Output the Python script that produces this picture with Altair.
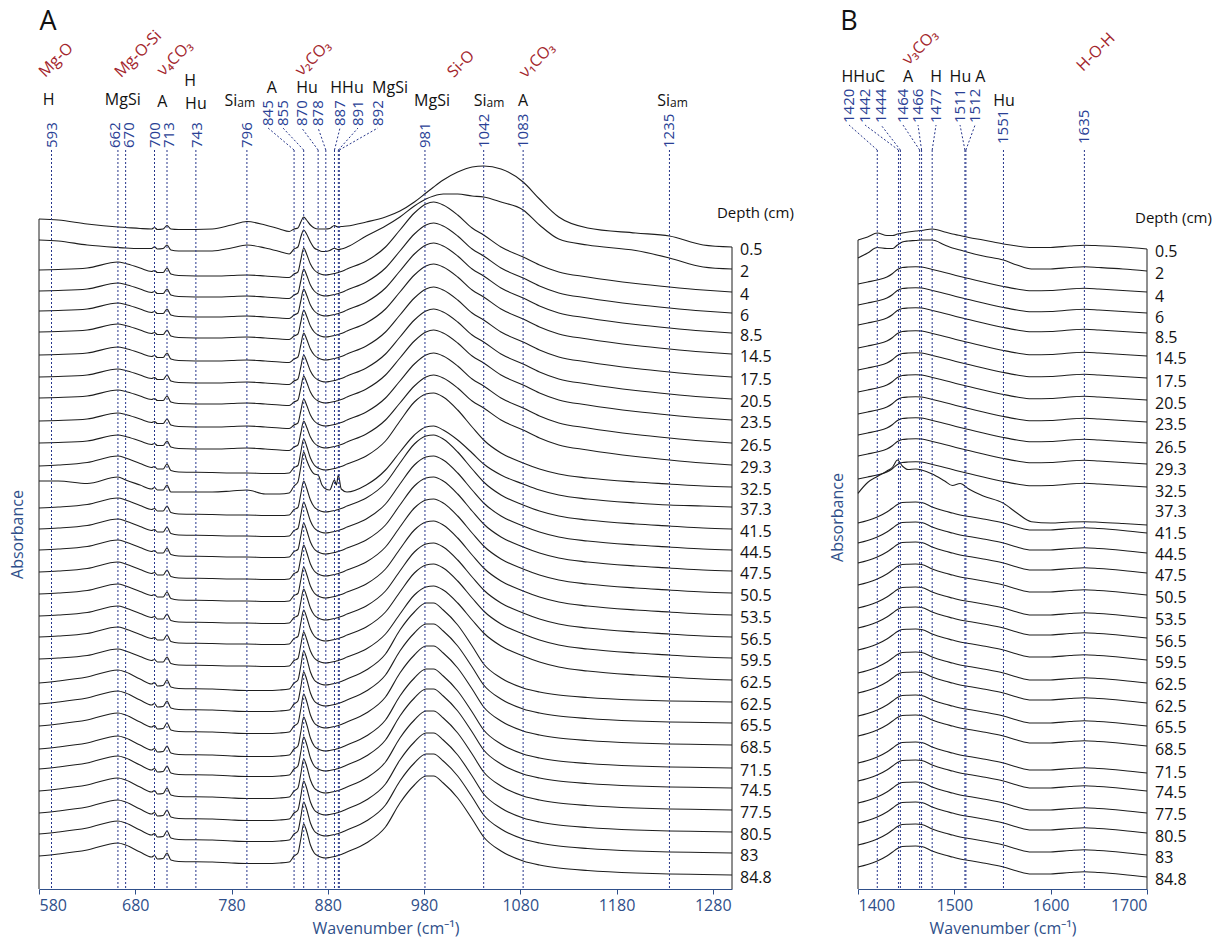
import altair as alt
import pandas as pd

FONT = "Open Sans"
INK = "#1e1e1e"
NAVY = "#26358a"
NUM = "#2a3f95"
RED = "#a3262d"
AXC = "#2f4f8a"

Y_LO, Y_HI = -14, 875

# ---------------- shared: sample depths (cm) ----------------
depths = ["0.5", "2", "4", "6", "8.5", "14.5", "17.5", "20.5", "23.5", "26.5",
          "29.3", "32.5", "37.3", "41.5", "44.5", "47.5", "50.5", "53.5", "56.5", "59.5",
          "62.5", "62.5", "65.5", "68.5", "71.5", "74.5", "77.5", "80.5", "83", "84.8"]

# ---------------- panel A (580-1300 cm-1) ----------------
wn_A = [580, 600, 630, 662, 670, 685, 697, 700, 703, 709,
        713, 717, 725, 760, 780, 796, 815, 830, 840, 845,
        849, 852, 855, 858, 862, 866, 870, 874, 878, 882,
        887, 889, 891, 894, 900, 920, 940, 955, 970, 982,
        990, 1000, 1015, 1030, 1042, 1060, 1083, 1100, 1120, 1150,
        1200, 1235, 1270, 1300]

# stacking offset of each spectrum (value at 1300 cm-1, arbitrary absorbance units)
offset_A = [628, 606, 583, 562, 542, 521, 498, 476, 455, 432,
            410, 388, 368, 346, 325, 304, 282, 260, 238, 217,
            195, 173, 152, 130, 107, 87, 65, 43, 22, 0]

shape_A_top = [28, 27, 23, 20, 19.5, 18.5, 18, 19.5, 17.5, 18,
               21.5, 18, 17.5, 18, 22, 25.5, 22, 18, 15.5, 18,
               19, 25, 30, 27, 22, 19, 18, 18, 18, 18.5,
               21.5, 20.5, 20, 20.5, 21, 25, 30, 36, 45, 54,
               60, 67, 75, 80, 81, 78, 65, 48, 30, 19,
               14, 11, 2, 0]
shape_A_second = [29, 28, 24, 21.5, 21, 20.5, 20.5, 22.3, 20, 20.5,
                  24, 19, 18, 18, 21, 24, 21, 17.5, 15, 20,
                  22, 32, 39, 35, 27, 21, 19, 17.5, 17.5, 18.5,
                  20.7, 20, 19.5, 20, 22, 33, 43, 52, 63, 70,
                  73, 75, 75, 73, 72, 67, 59, 44, 30, 24,
                  18.5, 11, 2, 0]
shape_A_upper = [22, 22.5, 24, 30, 28.5, 24, 20.5, 21.5, 19.5, 19.5,
                 24, 18, 16.5, 16, 16.5, 17, 16, 15, 14.5, 18,
                 20, 32, 44, 38, 28, 22, 19, 17.5, 17, 17.5,
                 18.5, 19, 19.5, 20.5, 23, 31, 45, 62, 79, 88,
                 90, 87, 77, 64, 57, 45, 35, 27, 20, 15,
                 8.5, 5, 2, 0]
shape_A_mid = [21, 22, 24.5, 31, 29, 23.5, 19.5, 20.5, 18, 18,
               23, 16.5, 15, 14.5, 14, 14, 13.5, 13.5, 14, 19.5,
               21.5, 35, 48, 41, 29, 22, 19, 17.5, 17, 17.5,
               18.5, 19, 19.5, 20.5, 23, 31, 46, 66, 85, 93,
               94, 90, 77, 60, 47, 34, 24, 18, 13, 9,
               5, 3, 1, 0]
shape_A_lower = [19, 21, 25, 32, 30, 23, 18, 19.5, 16, 16.5,
                 22, 15, 13.5, 13, 12, 11.5, 11.5, 12, 13, 19,
                 22, 36, 51, 44, 30, 22, 19, 17.5, 17, 17.5,
                 18.5, 19, 19.5, 20.5, 23, 32, 48, 72, 90, 99,
                 99, 92, 77, 56, 38, 24, 14, 10, 7, 4.5,
                 2, 1, 0.5, 0]
shape_A_odd = [26, 26, 23.5, 30, 27, 22, 18, 19.5, 17, 17,
               22, 15, 15, 15, 16, 17, 13, 13, 14, 21,
               25, 40, 55, 47, 38, 33, 32, 22, 18, 17,
               27, 22, 32, 18, 15, 22, 37, 55, 72, 80,
               81, 77, 67, 54, 43, 32, 23, 17, 12, 8,
               4, 2, 1, 0]
assign_A = (["top", "second"] + ["upper"] * 9 + ["mid", "odd"] + ["mid"] * 8 + ["lower"] * 9)

# ---------------- panel B (1400-1700 cm-1) ----------------
wn_B = [1400, 1410, 1420, 1430, 1436, 1441, 1446, 1452, 1460, 1466,
        1477, 1490, 1498, 1506, 1515, 1530, 1551, 1565, 1580, 1600,
        1620, 1635, 1650, 1675, 1700]
offset_B = [626, 604, 583, 562, 542, 519, 497, 475, 453, 432,
            411, 388, 350, 342, 322, 302, 280, 257, 237, 215,
            192, 172, 149, 129, 102, 84, 62, 42, 20, -2]
shape_B_top = [9, 12, 16, 13.5, 13.5, 15, 16, 17, 18, 18.5,
               20, 17, 15, 13.5, 11.5, 9, 5, 3, 1.5, 1.5,
               3, 3.8, 3.3, 2, 0]
shape_B_second = [13, 18, 23.5, 22.5, 22.5, 26, 29, 30, 30.5, 31,
                  31, 26, 23, 21, 18.5, 15, 11, 6, 2, 2,
                  3.5, 4.3, 3.5, 2, 0]
shape_B_upper = [8, 10, 12, 15, 18.5, 22.5, 24.5, 25, 25.3, 25,
                 22.5, 19.5, 17.5, 15.5, 13.5, 10, 5.5, 3, 1.3, 1.5,
                 3, 3.7, 3, 1.5, 0]
shape_B_lower = [10, 12.5, 16, 21, 25, 28.5, 30.5, 30.8, 31, 30.5,
                 26, 22, 20, 18, 16.5, 14, 10, 6, 3, 3,
                 4.5, 5.3, 4.5, 2.5, 0]
shape_B_odd = [31.7, 42.5, 48.5, 54, 58, 65, 59, 55.5, 56, 55,
               51, 44, 39.5, 41.5, 36, 29, 21.7, 12, 3.3, 2,
               3, 3.3, 2.8, 1.5, 0]
assign_B = ["top", "second"] + ["upper"] * 10 + ["odd"] + ["lower"] * 17

# ---------------- band annotations ----------------
peaks_A = [593, 662, 670, 700, 713, 743, 796, 845, 855, 870, 878, 887, 891, 892, 981, 1042, 1083, 1235]
peak_label_w_A = [593, 659, 673, 700.5, 715.5, 744, 796, 818, 833.5, 853, 870, 892.7, 911.4, 932, 981, 1042, 1083, 1235]
raised_A = [0, 0, 0, 0, 0, 0, 0, 1, 1, 1, 1, 1, 1, 1, 0, 0, 0, 0]

peaks_B = [1420, 1442, 1444, 1464, 1466, 1477, 1511, 1512, 1551, 1635]
peak_label_w_B = [1390.7, 1407.3, 1423.9, 1446.7, 1462.3, 1481, 1505.9, 1521.5, 1551, 1635]
raised_B = [1, 1, 1, 1, 1, 1, 1, 1, 0, 0]

codes_A = ["H", "MgSi", "A", "H", "Hu", "A", "Hu", "HHu", "MgSi", "MgSi", "A"]
codes_A_w = [590, 667, 708, 737, 743, 822, 858.5, 900, 944.7, 988.3, 1083]
codes_A_row = [775, 775, 773, 794, 771, 787, 787, 787, 787, 774, 774]
siam_A_w = [786, 1045, 1235.6]

codes_B = ["HHuC", "A", "H", "Hu A", "Hu"]
codes_B_w = [1405.5, 1451.9, 1481, 1513.7, 1551.6]
codes_B_row = [798, 798, 798, 798, 774]

bands_A = ["Mg-O", "Mg-O-Si", "ν₄CO₃", "ν₂CO₃", "Si-O", "ν₁CO₃"]
bands_A_w = [597.7, 683, 721, 864.7, 1018.4, 1097.4]
bands_A_row = [815, 821, 817, 817, 811, 815]
bands_B = ["ν₃CO₃", "H-O-H"]
bands_B_w = [1464.4, 1647]
bands_B_row = [828, 823]


def spectra_frame(wn, offsets, shapes, assign):
    rows = []
    for i, key in enumerate(assign):
        shp = shapes[key]
        assert len(shp) == len(wn), (key, len(shp), len(wn))
        for w, s in zip(wn, shp):
            rows.append({"sid": i, "depth": depths[i], "w": w, "a": offsets[i] + s})
    return pd.DataFrame(rows)


dfA = spectra_frame(wn_A, offset_A, {"top": shape_A_top, "second": shape_A_second,
                                     "upper": shape_A_upper, "mid": shape_A_mid,
                                     "lower": shape_A_lower, "odd": shape_A_odd}, assign_A)
dfB = spectra_frame(wn_B, offset_B, {"top": shape_B_top, "second": shape_B_second,
                                     "upper": shape_B_upper, "lower": shape_B_lower,
                                     "odd": shape_B_odd}, assign_B)


def make_encoders(dom, ticks, title_y, title_x):
    xax = alt.Axis(values=ticks, title="Wavenumber (cm⁻¹)", grid=False, format="d",
                   domainColor=AXC, tickColor=AXC, tickSize=5, labelColor=AXC,
                   labelFont=FONT, labelFontSize=16, labelPadding=3,
                   titleFont=FONT, titleFontSize=16, titleFontWeight="normal",
                   titleColor=AXC, titlePadding=7)
    yax = alt.Axis(title="Absorbance", labels=False, ticks=False, domain=False, grid=False,
                   titleFont=FONT, titleFontSize=16, titleFontWeight="normal", titleColor=AXC,
                   titleX=title_x, titleY=title_y, titleAngle=270, titleAlign="center",
                   titleBaseline="middle")

    def xenc(field):
        return alt.X(field, type="quantitative",
                     scale=alt.Scale(domain=dom, nice=False, zero=False), axis=xax)

    def yenc(field):
        return alt.Y(field, type="quantitative",
                     scale=alt.Scale(domain=[Y_LO, Y_HI], nice=False, zero=False), axis=yax)
    return xenc, yenc


def panel(df, dom, ticks, width, title_y, title_x, peaks, plw, raised, nb, nrb,
          codes, codes_w, codes_row, siam_w, bands, bands_w, bands_row,
          letter, letter_w, hdr_w, hdr_y, label_dy):
    xenc, yenc = make_encoders(dom, ticks, title_y, title_x)
    line_top = 725
    pk = pd.DataFrame({"w": peaks, "top": [line_top] * len(peaks), "bot": [Y_LO] * len(peaks)})
    rules = alt.Chart(pk).mark_rule(color=NAVY, strokeDash=[2, 2], strokeWidth=1).encode(
        x=xenc("w"), y=yenc("top"), y2="bot")
    ld = pd.DataFrame({"w": [p for p, r in zip(peaks, raised) if r],
                       "wl": [q for q, r in zip(plw, raised) if r]})
    ld["y0"] = line_top
    ld["y1"] = nrb - 2
    leaders = alt.Chart(ld).mark_rule(color=NAVY, strokeDash=[2, 2], strokeWidth=1).encode(
        x=xenc("w"), x2="wl", y=yenc("y0"), y2="y1")
    spectra = alt.Chart(df).mark_line(interpolate="monotone", color=INK, strokeWidth=1.1).encode(
        x=xenc("w"), y=yenc("a"), detail="sid:N")
    first = df[df["sid"] == 0]
    side = pd.DataFrame({"w": [first["w"].iloc[0], first["w"].iloc[-1]],
                         "top": [first["a"].iloc[0], first["a"].iloc[-1]],
                         "bot": [Y_LO, Y_LO]})
    sides = alt.Chart(side).mark_rule(color=INK, strokeWidth=1).encode(
        x=xenc("w"), y=yenc("top"), y2="bot")
    nums = pd.DataFrame({"w": plw, "t": [str(p) for p in peaks],
                         "y": [nrb if r else nb for r in raised]})
    numt = alt.Chart(nums).mark_text(angle=270, align="left", baseline="middle", font=FONT,
                                     fontSize=15, color=NUM).encode(
        x=xenc("w"), y=yenc("y"), text="t")
    cd = pd.DataFrame({"w": codes_w, "t": codes, "y": codes_row})
    codet = alt.Chart(cd).mark_text(align="center", baseline="middle", font=FONT, fontSize=16,
                                    color="#111111").encode(x=xenc("w"), y=yenc("y"), text="t")
    layers = [spectra, rules, leaders, sides, numt, codet]
    if siam_w:
        sd = pd.DataFrame({"w": siam_w, "y": [774] * len(siam_w)})
        layers.append(alt.Chart(sd).mark_text(align="right", baseline="middle", font=FONT, fontSize=16,
                                              color="#111111", text="Si").encode(x=xenc("w"), y=yenc("y")))
        layers.append(alt.Chart(sd).mark_text(align="left", baseline="middle", font=FONT, fontSize=12,
                                              dy=2, color="#111111", text="am").encode(x=xenc("w"), y=yenc("y")))
    bd = pd.DataFrame({"w": bands_w, "t": bands, "y": bands_row})
    layers.append(alt.Chart(bd).mark_text(angle=315, align="center", baseline="middle", font=FONT,
                                          fontSize=16, color=RED).encode(x=xenc("w"), y=yenc("y"), text="t"))
    lt = pd.DataFrame({"w": [letter_w], "y": [853], "t": [letter]})
    layers.append(alt.Chart(lt).mark_text(align="center", baseline="middle", font=FONT, fontSize=27,
                                          color="#111111").encode(x=xenc("w"), y=yenc("y"), text="t"))
    hd = pd.DataFrame({"w": [hdr_w], "y": [hdr_y], "t": ["Depth (cm)"]})
    layers.append(alt.Chart(hd).mark_text(align="left", baseline="middle", font=FONT, fontSize=15,
                                          color="#111111").encode(x=xenc("w"), y=yenc("y"), text="t"))
    dl = pd.DataFrame({"w": [dom[1]] * len(depths), "y": offset_A, "t": depths})
    layers.append(alt.Chart(dl).mark_text(align="left", baseline="middle", font=FONT, fontSize=16,
                                          dx=8, dy=label_dy, color="#111111").encode(
        x=xenc("w"), y=yenc("y"), text="t"))
    return alt.layer(*layers).properties(width=width, height=889)


panelA = panel(dfA, [580, 1300], [580, 680, 780, 880, 980, 1080, 1180, 1280], 693, 534, -22,
               peaks_A, peak_label_w_A, raised_A, 727, 749,
               codes_A, codes_A_w, codes_A_row, siam_A_w, bands_A, bands_A_w, bands_A_row,
               "A", 589.4, 1284.4, 662, 3)
panelB = panel(dfB, [1400, 1700], [1400, 1500, 1600, 1700], 289, 517, -21,
               peaks_B, peak_label_w_B, raised_B, 731, 752,
               codes_B, codes_B_w, codes_B_row, [], bands_B, bands_B_w, bands_B_row,
               "B", 1390.7, 1687.6, 657, 5)

chart = alt.hconcat(panelA, panelB, spacing=126, bounds="flush").properties(
    padding={"left": 9, "top": 0, "right": 5, "bottom": 2}, background="white"
).configure_view(stroke=None)

chart.save("out.html", embed_options={"renderer": "svg", "actions": False})
